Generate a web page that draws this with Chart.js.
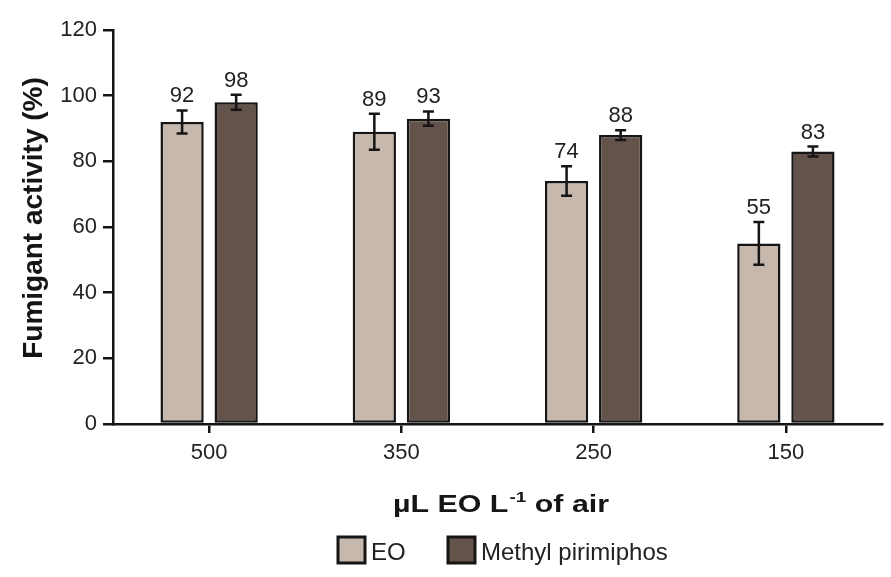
<!DOCTYPE html>
<html>
<head>
<meta charset="utf-8">
<style>
  body { margin: 0; background: #fff; }
  #chart { display: block; }
</style>
</head>
<body>
<canvas id="chart" width="891" height="577"></canvas>

<script src="https://cdn.jsdelivr.net/npm/chart.js@4.4.1/dist/chart.umd.min.js"></script>
<script>
// values
var doses = ['500', '350', '250', '150'];
var eoValues = [92, 89, 74, 55];
var mpValues = [98, 93, 88, 83];
var eoErrors = [3.5, 5.5, 4.5, 6.5];
var mpErrors = [2.3, 2.2, 1.5, 1.5];
var yTicks = [0, 20, 40, 60, 80, 100, 120];
var seriesNames = ['EO', 'Methyl pirimiphos'];

var FONT = '"Liberation Sans", Arial, sans-serif';
var EO_COLOR = '#c6b8ad';
var MP_COLOR = '#64534a';
var INK = '#151515';

// error bars + value labels on top of each bar
var errorBars = {
    id: 'errorBars',
    afterDatasetsDraw: function(chart) {
        var ctx = chart.ctx;
        var yScale = chart.scales.y;
        var errs = [eoErrors, mpErrors];
        ctx.save();
        ctx.strokeStyle = INK;
        ctx.lineWidth = 2.5;
        ctx.fillStyle = '#222';
        ctx.font = '22px ' + FONT;
        ctx.textAlign = 'center';
        ctx.textBaseline = 'alphabetic';
        chart.data.datasets.forEach(function(ds, i) {
            var meta = chart.getDatasetMeta(i);
            meta.data.forEach(function(bar, j) {
                var v = ds.data[j];
                var top = yScale.getPixelForValue(v + errs[i][j]);
                var bottom = yScale.getPixelForValue(v - errs[i][j]);
                ctx.beginPath();
                ctx.moveTo(bar.x, top);
                ctx.lineTo(bar.x, bottom);
                ctx.moveTo(bar.x - 5.5, top);
                ctx.lineTo(bar.x + 5.5, top);
                ctx.moveTo(bar.x - 5.5, bottom);
                ctx.lineTo(bar.x + 5.5, bottom);
                ctx.stroke();
                ctx.fillText(String(v), bar.x, top - 8);
            });
        });
        ctx.restore();
    }
};

// axis titles (x title has a superscript) and the legend underneath
var titlesAndLegend = {
    id: 'titlesAndLegend',
    afterDraw: function(chart) {
        var ctx = chart.ctx;
        ctx.save();
        ctx.fillStyle = INK;

        // y title
        ctx.save();
        ctx.translate(34, 218);
        ctx.rotate(-Math.PI / 2);
        ctx.font = 'bold 28px ' + FONT;
        ctx.textAlign = 'center';
        ctx.textBaseline = 'middle';
        ctx.fillText('Fumigant activity (%)', 0, 0);
        ctx.restore();

        // x title, drawn a little wide like the original
        var a = '\u00b5L EO L', sup = '-1', b = ' of air';
        var big = 'bold 24px ' + FONT, small = 'bold 15px ' + FONT;
        ctx.textAlign = 'left';
        ctx.textBaseline = 'alphabetic';
        ctx.font = big;
        var wa = ctx.measureText(a).width, wb = ctx.measureText(b).width;
        ctx.font = small;
        var ws = ctx.measureText(sup).width;
        var total = wa + ws + wb + 1;
        var sx = 216 / total;
        ctx.save();
        ctx.translate(501 - 108, 512);
        ctx.scale(sx, 1);
        ctx.font = big;
        ctx.fillText(a, 0, 0);
        ctx.font = small;
        ctx.fillText(sup, wa + 1, -10);
        ctx.font = big;
        ctx.fillText(b, wa + ws + 1, 0);
        ctx.restore();

        // legend
        var items = [
            { x: 338, color: EO_COLOR, label: seriesNames[0] },
            { x: 448, color: MP_COLOR, label: seriesNames[1] }
        ];
        ctx.font = '24px ' + FONT;
        ctx.textBaseline = 'middle';
        items.forEach(function(it) {
            ctx.fillStyle = it.color;
            ctx.fillRect(it.x, 537, 27, 26);
            ctx.strokeStyle = INK;
            ctx.lineWidth = 3;
            ctx.strokeRect(it.x, 537, 27, 26);
            ctx.fillStyle = '#222';
            ctx.fillText(it.label, it.x + 33, 553);
        });
        ctx.restore();
    }
};

var ctx = document.getElementById('chart').getContext('2d');
var chart = new Chart(ctx, {
    type: 'bar',
    data: {
        labels: doses,
        datasets: [{
            label: seriesNames[0],
            data: eoValues,
            backgroundColor: EO_COLOR,
            borderColor: INK,
            borderWidth: 2.5,
            borderSkipped: false
        }, {
            label: seriesNames[1],
            data: mpValues,
            backgroundColor: MP_COLOR,
            borderColor: INK,
            borderWidth: 2.5,
            borderSkipped: false
        }]
    },
    options: {
        responsive: false,
        animation: false,
        devicePixelRatio: 1,
        categoryPercentage: 0.5625,
        barPercentage: 0.8,
        layout: { padding: { left: 0, right: 9, top: 30, bottom: 0 } },
        plugins: {
            legend: { display: false },
            tooltip: { enabled: false }
        },
        scales: {
            x: {
                afterFit: function(scale) { scale.height = 153; },
                grid: {
                    display: true,
                    drawOnChartArea: false,
                    offset: false,
                    drawTicks: true,
                    tickLength: 9,
                    color: INK,
                    lineWidth: 2.5
                },
                border: { display: true, color: INK, width: 2.5 },
                ticks: {
                    color: '#222',
                    padding: 7,
                    font: { family: FONT, size: 22 }
                }
            },
            y: {
                min: 0,
                max: 120,
                afterFit: function(scale) { scale.width = 113; },
                afterBuildTicks: function(scale) {
                    scale.ticks = yTicks.map(function(v) { return { value: v }; });
                },
                grid: {
                    display: true,
                    drawOnChartArea: false,
                    drawTicks: true,
                    tickLength: 10,
                    color: INK,
                    lineWidth: 2.5
                },
                border: { display: true, color: INK, width: 2.5 },
                ticks: {
                    color: '#222',
                    padding: 6,
                    font: { family: FONT, size: 22 }
                }
            }
        }
    },
    plugins: [errorBars, titlesAndLegend]
});
</script>
</body>
</html>
